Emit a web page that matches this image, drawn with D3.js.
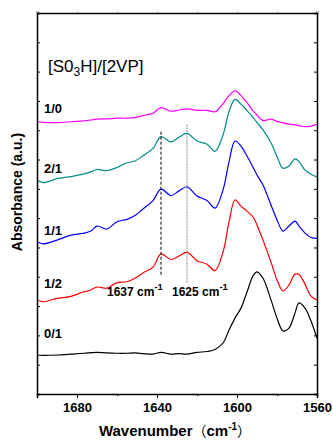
<!DOCTYPE html>
<html>
<head>
<meta charset="utf-8">
<script src="https://cdn.jsdelivr.net/npm/d3@7"></script>
<style>
  html, body { margin: 0; padding: 0; background: #fff; }
  svg { display: block; }
  text { font-family: "Liberation Sans", Arial, sans-serif; }
</style>
</head>
<body>
<div id="chart"></div>
<script>
// wavenumber grid (cm-1) and stacked, offset absorbance traces
const wavenumbers = [1700,1697,1690,1683,1677,1673,1670,1665,1660,1655,1651,1647,1642,1638,1633,1629,1625,1620,1615,1611,1607,1604,1601,1598,1595,1592,1590,1587,1583,1580,1577,1574,1571,1569,1566,1563,1560];
const ratio10 = [9.29,9.27,9.26,9.29,9.32,9.35,9.38,9.39,9.41,9.41,9.43,9.50,9.58,9.77,9.65,9.69,9.73,9.68,9.68,9.63,9.90,10.18,10.34,10.18,9.94,9.66,9.52,9.33,9.38,9.30,9.25,9.21,9.18,9.16,9.12,9.14,9.20];
const ratio21 = [7.30,7.21,7.35,7.42,7.50,7.58,7.66,7.62,7.73,7.89,7.95,8.13,8.38,8.78,8.60,8.76,8.89,8.63,8.52,8.28,8.84,9.63,10.05,9.89,9.67,9.44,9.26,9.01,8.57,8.10,7.70,7.78,8.02,7.93,7.64,7.50,7.41];
const ratio11 = [5.20,5.12,5.25,5.42,5.48,5.56,5.73,5.63,5.88,5.96,6.09,6.31,6.60,6.99,6.77,6.93,7.07,6.76,6.60,6.34,6.96,7.92,8.63,8.46,8.12,7.74,7.47,7.13,6.45,5.94,5.56,5.73,5.90,5.73,5.49,5.34,5.31];
const ratio12 = [3.21,3.15,3.26,3.33,3.48,3.55,3.65,3.61,3.80,3.83,3.95,4.13,4.33,4.78,4.59,4.71,4.83,4.55,4.43,4.21,4.84,5.87,6.62,6.41,6.24,6.04,5.77,5.25,4.50,3.89,3.52,3.72,4.09,4.08,3.75,3.34,3.21];
const ratio01 = [1.33,1.32,1.33,1.36,1.39,1.41,1.42,1.40,1.39,1.39,1.40,1.38,1.36,1.42,1.36,1.38,1.36,1.42,1.45,1.52,1.74,2.18,2.59,2.93,3.48,4.03,4.17,3.95,3.21,2.59,2.15,2.25,2.76,3.11,2.93,2.49,1.90];

const seriesNames = ['1/0', '2/1', '1/1', '1/2', '0/1'];
const seriesValues = [ratio10, ratio21, ratio11, ratio12, ratio01];
const seriesColors = ['#ff00ff', '#008b8b', '#0000ff', '#ff0000', '#000000'];
const labelLevels = [9.58, 7.53, 5.42, 3.61, 1.90];

const majorTicks = [1680, 1640, 1600, 1560];
const minorTicks = [1700, 1660, 1620, 1580];
const markers = [
  { wn: 1638, label: '1637', from: 4.0, to: 8.95, dash: '3,2', color: '#000' },
  { wn: 1625, label: '1625', from: 3.8, to: 9.2, dash: '2,1', color: '#888' }
];

const width = 333, height = 441;
const margin = { top: 13, right: 16, bottom: 47, left: 37 };
const innerW = width - margin.left - margin.right;
const innerH = height - margin.top - margin.bottom;

const svg = d3.select('#chart').append('svg')
  .attr('width', width)
  .attr('height', height);

const g = svg.append('g')
  .attr('transform', `translate(${margin.left},${margin.top})`);

const x = d3.scaleLinear().domain([1700, 1560]).range([0, innerW]);
const y = d3.scaleLinear().domain([0, 13]).range([innerH, 0]);

// clip curves to the frame
svg.append('defs').append('clipPath').attr('id', 'plotClip')
  .append('rect').attr('width', innerW).attr('height', innerH);

const line = d3.line()
  .x(d => x(d[0]))
  .y(d => y(d[1]))
  .curve(d3.curveCatmullRom.alpha(0.5));

const curves = g.append('g').attr('clip-path', 'url(#plotClip)');
seriesValues.forEach((vals, i) => {
  curves.append('path')
    .datum(wavenumbers.map((w, j) => [w, vals[j]]))
    .attr('d', line)
    .attr('fill', 'none')
    .attr('stroke', seriesColors[i])
    .attr('stroke-width', 1.2);
});

// dashed marker lines
markers.forEach(m => {
  g.append('line')
    .attr('x1', x(m.wn)).attr('x2', x(m.wn))
    .attr('y1', y(m.to)).attr('y2', y(m.from))
    .attr('stroke', m.color)
    .attr('stroke-width', 1)
    .attr('stroke-dasharray', m.dash);
});

// marker annotations
const annX = [70, 135];
markers.forEach((m, i) => {
  const t = g.append('text')
    .attr('x', annX[i])
    .attr('y', 283)
    .attr('font-size', 12)
    .attr('font-weight', 'bold');
  t.append('tspan').text(m.label + ' cm');
  t.append('tspan').attr('dy', -6).attr('font-size', 9.5).text('-1');
});

// series labels
seriesNames.forEach((name, i) => {
  g.append('text')
    .attr('x', 7)
    .attr('y', y(labelLevels[i]))
    .attr('font-size', 13)
    .attr('font-weight', 'bold')
    .text(name);
});

// legend title
const legend = g.append('text')
  .attr('x', 11)
  .attr('y', 58.7)
  .attr('font-size', 17);
legend.append('tspan').text('[S0');
legend.append('tspan').attr('dy', 4).attr('font-size', 12).text('3');
legend.append('tspan').attr('dy', -4).text('H]/[2VP]');

// axes
const xAxis = g.append('g')
  .attr('transform', `translate(0,${innerH})`)
  .call(d3.axisBottom(x).tickValues(majorTicks).tickSize(4).tickPadding(4.5).tickFormat(d3.format('d')));
g.append('g')
  .attr('transform', `translate(0,${innerH})`)
  .call(d3.axisBottom(x).tickValues(minorTicks).tickSize(2).tickFormat(''))
  .select('.domain').remove();
const topAxis = g.append('g')
  .call(d3.axisTop(x).tickValues(majorTicks.concat(minorTicks)).tickSize(2).tickFormat(''));
topAxis.selectAll('.tick line').attr('stroke', '#bbb');

const yTicks = d3.range(1, 13);
g.append('g')
  .call(d3.axisLeft(y).tickValues(yTicks).tickSize(-3).tickFormat(''));
g.append('g')
  .attr('transform', `translate(${innerW},0)`)
  .call(d3.axisRight(y).tickValues(yTicks).tickSize(-3).tickFormat(''));

g.selectAll('.domain').attr('stroke', '#000').attr('stroke-width', 1.5);
g.selectAll('.tick line').filter(function () { return d3.select(this).attr('stroke') !== '#bbb'; })
  .attr('stroke', '#000');
xAxis.selectAll('.tick text')
  .attr('font-size', 13)
  .attr('font-weight', 'bold')
  .attr('font-family', '"Liberation Sans", Arial, sans-serif')
  .attr('fill', '#000');

// axis titles
const xTitle = svg.append('text')
  .attr('x', 175)
  .attr('y', 436)
  .attr('text-anchor', 'middle')
  .attr('font-size', 15)
  .attr('font-weight', 'bold');
xTitle.append('tspan').text('Wavenumber');
xTitle.append('tspan').attr('font-family', '"Noto Sans CJK SC", sans-serif').attr('font-weight', 'normal').attr('font-size', 14).text('（');
xTitle.append('tspan').text('cm');
xTitle.append('tspan').attr('dy', -6).attr('font-size', 10).text('-1');
xTitle.append('tspan').attr('dy', 6).attr('font-family', '"Noto Sans CJK SC", sans-serif').attr('font-weight', 'normal').attr('font-size', 14).text('）');

svg.append('text')
  .attr('transform', 'translate(22,192) rotate(-90)')
  .attr('text-anchor', 'middle')
  .attr('font-size', 14)
  .attr('font-weight', 'bold')
  .text('Absorbance (a.u.)');
</script>
</body>
</html>
